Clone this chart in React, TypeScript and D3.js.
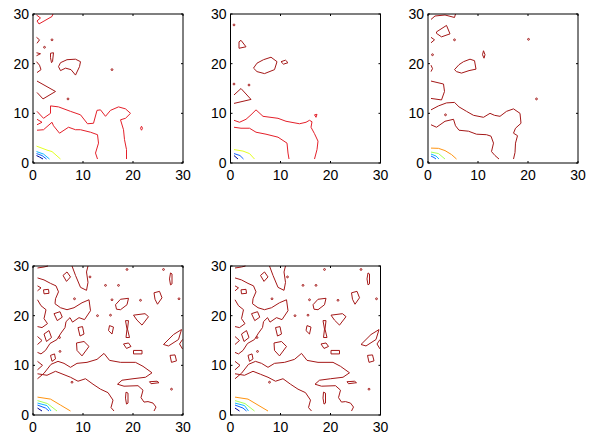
import React from 'react';
import * as d3 from 'd3';

type Pt = [number, number];
type Contour = { level: number; pts: Pt[]; closed?: boolean };
type Spot = [number, number, number]; // x, y, level

const tickValues = [0, 10, 20, 30];
const levelColors = ['#00008f', '#1060ff', '#10b8ff', '#a8ff58', '#e4ff20', '#ff9410', '#e4202a', '#a41818'];

// panel 1
const p1Contours: Contour[] = [
  { level: 0, pts: [[0.7, 1.5], [1.3, 1.2], [2.0, 0.8]] },
  { level: 1, pts: [[0.7, 1.9], [1.8, 1.5], [2.7, 0.8]] },
  { level: 2, pts: [[0.7, 2.3], [2.1, 1.8], [3.3, 0.8]] },
  { level: 4, pts: [[0.7, 3.4], [2.8, 2.6], [3.8, 2.3], [5.5, 0.8]] },
  { level: 6, pts: [[0.8, 6.6], [2.1, 6.7], [3.8, 8.2], [4.1, 7.5], [5.3, 6.0], [7.1, 7.2], [8.5, 6.7], [9.5, 6.7], [11.5, 6.2], [12.9, 5.7], [13.1, 4.0], [12.5, 2.0], [12.9, 0.8]] },
  { level: 6, pts: [[0.8, 10.4], [2.1, 9.0], [3.5, 10.0], [3.5, 11.5], [5.1, 11.3], [7.5, 10.4], [9.5, 9.7], [10.9, 7.9], [12.1, 8.0], [12.8, 10.6], [13.5, 10.7], [14.5, 9.4], [15.5, 10.6], [17.1, 11.3], [18.5, 10.9], [19.5, 10.0], [18.5, 9.0], [17.5, 8.7], [18.1, 6.7], [18.3, 4.7], [18.7, 2.7], [18.7, 0.8]] },
  { level: 6, pts: [[0.8, 8.8], [1.8, 8.2], [0.8, 7.7]] },
  { level: 6, pts: [[21.7, 7.4], [21.9, 7.0], [21.7, 6.6], [21.5, 7.0]], closed: true },
  { level: 6, pts: [[0.7, 29.8], [1.5, 29.2], [0.8, 28.6], [1.2, 28.0], [3.8, 29.5], [4.0, 30]] },
  { level: 7, pts: [[0.7, 25.3], [1.3, 24.8], [0.8, 24.1]] },
  { level: 7, pts: [[0.7, 22.2], [1.5, 22.0], [0.7, 21.6]] },
  { level: 7, pts: [[3.5, 22.1], [4.1, 22.2], [3.9, 20.4], [3.7, 20.2], [3.5, 21.2]], closed: true },
  { level: 7, pts: [[0.7, 20.4], [1.3, 19.7], [1.6, 18.8], [0.8, 18.2]] },
  { level: 7, pts: [[5.1, 19.4], [5.5, 20.2], [6.8, 20.8], [8.5, 20.9], [9.5, 20.4], [9.3, 19.4], [8.5, 17.7], [7.6, 18.8], [6.5, 19.1], [5.5, 18.6]], closed: true },
  { level: 7, pts: [[0.8, 16.5], [4.5, 14.4], [2.0, 12.9], [0.8, 14.2]] },
];
const p1Spots: Spot[] = [[3.8, 24.8, 7], [2.3, 23.3, 7], [15.8, 18.8, 7], [7.0, 12.9, 7]];

// panel 2
const p2Contours: Contour[] = [
  { level: 0, pts: [[0.7, 1.5], [1.5, 0.8]] },
  { level: 1, pts: [[0.7, 1.9], [1.9, 1.5], [2.6, 0.8]] },
  { level: 4, pts: [[0.7, 2.7], [2.5, 2.4], [3.8, 1.9], [4.8, 0.8]] },
  { level: 6, pts: [[0.7, 7.2], [2.1, 7.0], [3.8, 7.0], [5.1, 6.2], [7.1, 5.8], [9.5, 5.2], [11.3, 4.0], [11.5, 2.0], [11.7, 0.8]] },
  { level: 6, pts: [[0.7, 8.6], [1.8, 8.2], [3.1, 8.8], [4.1, 9.7], [5.1, 10.7], [6.5, 9.4], [9.5, 9.0], [11.1, 8.4], [13.8, 7.9], [15.1, 8.2], [15.8, 8.6], [16.3, 8.3], [16.1, 7.2], [16.8, 5.9], [17.5, 4.4], [17.3, 2.7], [16.8, 0.8]] },
  { level: 6, pts: [[16.8, 9.7], [17.3, 9.8], [17.1, 9.2]], closed: true },
  { level: 7, pts: [[0.7, 12.0], [4.1, 12.8], [2.1, 15.0], [0.7, 13.7]] },
  { level: 7, pts: [[1.7, 24.4], [2.1, 24.7], [3.1, 23.4], [1.7, 23.1]], closed: true },
  { level: 7, pts: [[4.6, 19.1], [5.3, 20.1], [6.6, 20.8], [8.1, 21.3], [9.3, 20.4], [8.8, 18.8], [6.8, 18.0], [5.3, 18.4]], closed: true },
  { level: 7, pts: [[10.1, 20.4], [11.0, 20.7], [11.5, 20.2], [10.6, 19.9]], closed: true },
];
const p2Spots: Spot[] = [[0.7, 15.9, 7], [3.7, 15.7, 7], [0.7, 27.8, 7]];

// panel 3
const p3Contours: Contour[] = [
  { level: 1, pts: [[0.6, 1.4], [1.2, 1.1], [1.6, 0.8]] },
  { level: 2, pts: [[0.6, 1.8], [1.6, 1.4], [2.2, 0.8]] },
  { level: 3, pts: [[0.6, 2.2], [2.1, 1.9], [3.4, 0.8]] },
  { level: 5, pts: [[0.6, 3.0], [2.1, 2.95], [3.4, 2.5], [4.7, 1.7], [5.7, 0.8]] },
  { level: 7, pts: [[0.6, 7.7], [1.7, 7.2], [3.4, 8.4], [5.1, 8.8], [5.5, 7.5], [6.2, 6.6], [8.1, 6.4], [9.7, 5.8], [11.7, 5.7], [12.6, 5.4], [13.1, 4.0], [12.7, 2.3], [13.4, 1.5], [14.2, 0.8]] },
  { level: 7, pts: [[0.6, 10.7], [2.1, 11.5], [3.7, 12.1], [5.3, 12.2], [6.2, 11.3], [7.7, 10.4], [9.1, 9.6], [11.1, 9.2], [12.4, 10.0], [13.3, 9.6], [14.4, 9.4], [15.7, 10.4], [17.1, 10.9], [18.4, 10.0], [18.6, 8.0], [17.5, 7.0], [17.1, 6.0], [17.9, 5.5], [17.5, 4.0], [17.4, 2.1], [17.1, 0.8]] },
  { level: 7, pts: [[0.6, 16.5], [3.1, 15.9], [3.3, 14.4], [2.7, 12.7], [0.6, 13.0]] },
  { level: 7, pts: [[0.6, 19.7], [0.9, 19.0], [0.6, 18.4]] },
  { level: 7, pts: [[5.3, 18.8], [6.2, 19.8], [7.1, 20.4], [8.4, 20.9], [9.3, 20.6], [9.6, 18.9], [8.2, 18.6], [6.7, 18.1], [5.7, 18.4]], closed: true },
  { level: 7, pts: [[11.1, 22.6], [11.4, 21.8], [11.2, 21.1], [10.9, 21.8]], closed: true },
  { level: 7, pts: [[1.7, 26.4], [3.7, 27.7], [4.4, 26.0], [2.7, 25.4], [1.7, 26.1]], closed: true },
  { level: 7, pts: [[0.6, 28.9], [1.4, 29.6], [3.4, 29.8], [5.3, 29.3], [5.5, 30]] },
  { level: 7, pts: [[0.6, 25.3], [1.3, 24.8], [0.6, 24.2]] },
];
const p3Spots: Spot[] = [[3.5, 9.7, 7], [21.7, 12.9, 7], [0.9, 21.8, 7], [5.3, 24.8, 7], [20.1, 24.9, 7]];

// panels 4 and 5 (same field)
const p4Contours: Contour[] = [
  { level: 0, pts: [[0.9, 1.4], [1.8, 0.8]] },
  { level: 1, pts: [[0.9, 2.0], [2.5, 1.4], [3.2, 0.8]] },
  { level: 2, pts: [[0.9, 2.4], [2.8, 1.9], [3.6, 0.8]] },
  { level: 3, pts: [[0.9, 2.9], [2.9, 2.3], [4.8, 0.8]] },
  { level: 5, pts: [[0.9, 3.6], [3.5, 3.2], [5.5, 2.0], [7.5, 0.8]] },
  // lower networks
  { level: 7, pts: [[0.9, 7.3], [2.2, 8.4], [3.6, 10.2], [5.0, 10.8], [6.2, 10.4], [7.5, 9.6], [8.8, 10.4], [10.8, 10.6], [12.8, 11.2], [14.2, 12.4], [15.3, 11.0], [17.5, 10.6], [20.5, 10.6], [22.0, 9.8], [23.8, 8.5], [22.5, 7.6], [20.0, 7.3], [17.8, 7.0], [16.9, 6.2], [18.2, 5.8], [21.0, 5.9], [22.0, 5.0], [21.6, 3.5], [22.2, 2.6], [23.0, 2.7], [24.0, 2.4], [24.6, 1.6], [24.2, 0.8]] },
  { level: 7, pts: [[0.9, 8.3], [2.8, 8.0], [4.5, 8.8], [6.0, 8.2], [7.5, 7.6], [9.0, 6.8], [10.5, 7.3], [12.0, 6.2], [13.5, 5.2], [15.0, 4.5], [16.0, 3.0], [15.6, 1.5], [16.2, 0.8]] },
  { level: 7, pts: [[0.9, 10.8], [1.9, 10.0], [0.9, 9.1]] },
  { level: 7, pts: [[18.6, 4.6], [19.0, 4.4], [19.0, 2.4], [18.7, 2.2], [18.5, 3.4]], closed: true },
  { level: 7, pts: [[23.3, 6.7], [24.8, 6.8], [25.2, 6.5], [23.6, 6.3]], closed: true },
  // upper-left networks
  { level: 7, pts: [[0.9, 29.6], [2.2, 29.8], [3.0, 30]] },
  { level: 7, pts: [[0.9, 27.6], [2.2, 27.2], [3.5, 26.5], [4.6, 26.0], [5.1, 24.8], [4.5, 23.4], [4.4, 22.4], [5.5, 21.6], [6.8, 21.2], [8.2, 21.6], [9.8, 22.6], [11.2, 23.2], [11.5, 21.0], [10.3, 19.2], [9.2, 19.6], [7.9, 18.7], [7.4, 19.6], [6.6, 18.8], [6.4, 17.6], [5.6, 16.5], [4.8, 15.2], [3.4, 14.4], [2.5, 13.0], [1.6, 12.3], [0.9, 12.6]] },
  { level: 7, pts: [[0.9, 23.2], [1.6, 22.0], [2.6, 21.2], [2.2, 19.4], [2.9, 18.4], [1.8, 17.6], [0.9, 17.8]] },
  { level: 7, pts: [[0.9, 26.0], [1.6, 25.6], [0.9, 25.0]] },
  { level: 7, pts: [[0.9, 15.8], [1.8, 15.0], [0.9, 14.2]] },
  { level: 7, pts: [[6.0, 28.1], [6.8, 28.8], [7.5, 27.8], [6.7, 26.9]], closed: true },
  { level: 7, pts: [[7.8, 30], [8.5, 28.1], [9.5, 25.7], [10.7, 25.1], [11.0, 26.7], [10.7, 28.8], [11.0, 30]] },
  // scattered islands
  { level: 7, pts: [[16.5, 22.2], [17.5, 23.3], [19.1, 23.5], [18.8, 22.2], [17.5, 21.2], [16.7, 21.3]], closed: true },
  { level: 7, pts: [[24.2, 24.6], [25.3, 24.9], [25.8, 23.6], [24.9, 22.3], [24.4, 23.3]], closed: true },
  { level: 7, pts: [[27.5, 28.6], [27.8, 28.4], [27.8, 26.4], [27.5, 26.2], [27.3, 27.4]], closed: true },
  { level: 7, pts: [[20.1, 20.1], [22.4, 20.4], [23.1, 19.8], [21.8, 18.1], [20.8, 19.1]], closed: true },
  { level: 7, pts: [[15.3, 18.0], [16.1, 17.7], [15.8, 16.3], [15.1, 17.0]], closed: true },
  { level: 7, pts: [[18.5, 19.0], [19.1, 19.0], [18.9, 17.3], [19.3, 15.6], [18.6, 15.6], [18.8, 17.3]], closed: true },
  { level: 7, pts: [[18.1, 14.3], [19.1, 14.5], [19.6, 13.8], [18.7, 13.4]], closed: true },
  { level: 7, pts: [[20.1, 13.0], [21.8, 13.0], [21.8, 12.3], [20.1, 12.3]], closed: true },
  { level: 7, pts: [[26.1, 14.2], [28.1, 16.2], [29.7, 17.2], [29.1, 15.2], [27.1, 13.9]], closed: true },
  { level: 7, pts: [[29.9, 15.2], [29.3, 14.3], [29.9, 13.3]] },
  { level: 7, pts: [[27.4, 12.0], [28.4, 12.1], [28.7, 10.9], [27.7, 10.6]], closed: true },
  { level: 7, pts: [[8.7, 14.5], [10.2, 14.8], [11.2, 13.8], [9.8, 11.9], [8.8, 13.0]], closed: true },
  { level: 7, pts: [[9.0, 17.6], [9.9, 17.8], [10.2, 16.3], [9.4, 15.9]], closed: true },
  { level: 7, pts: [[3.5, 12.0], [4.3, 12.3], [4.5, 11.3], [3.8, 10.8]], closed: true },
  { level: 7, pts: [[2.2, 16.3], [3.2, 17.0], [3.7, 15.6], [2.7, 14.8]], closed: true },
  { level: 7, pts: [[4.2, 20.4], [5.4, 20.8], [5.85, 19.7], [4.85, 19.0]], closed: true },
  { level: 7, pts: [[2.1, 25.2], [3.1, 25.3], [3.2, 24.5], [2.2, 24.4]], closed: true },
];
const p4Spots: Spot[] = [[11.4, 27.8, 7], [18.8, 29.3, 7], [26.1, 29.3, 7], [14.5, 26.1, 7], [17.1, 26.1, 7], [15.8, 23.2, 7], [21.5, 23.1, 7], [29.2, 23.4, 7], [5.4, 12.8, 7], [5.3, 15.6, 7], [12.9, 20.0, 7], [8.3, 23.4, 7], [15.5, 20.1, 7], [7.8, 6.6, 7], [27.7, 5.2, 7]];

const panels = [
  { x0: 33, y0: 14, contours: p1Contours, spots: p1Spots },
  { x0: 230.5, y0: 14, contours: p2Contours, spots: p2Spots },
  { x0: 428, y0: 14, contours: p3Contours, spots: p3Spots },
  { x0: 33, y0: 266, contours: p4Contours, spots: p4Spots },
  { x0: 230.5, y0: 266, contours: p4Contours, spots: p4Spots },
];

const W = 150;
const H = 149;

const Panel = ({ x0, y0, contours, spots }: any) => {
  const x = d3.scaleLinear().domain([0, 30]).range([0, W]);
  const y = d3.scaleLinear().domain([0, 30]).range([H, 0]);
  const color = d3.scaleOrdinal<number, string>().domain(d3.range(levelColors.length)).range(levelColors);
  const line = d3.line<Pt>().x(d => x(d[0])).y(d => y(d[1]));
  const tl = 2;
  return (
    <g transform={`translate(${x0},${y0})`}>
      <rect width={W} height={H} fill="#fff" />
      {contours.map((c: Contour, i: number) => (
        <path key={i} d={line(c.pts) + (c.closed ? 'Z' : '')} fill="none" stroke={color(c.level)} strokeWidth={1} strokeLinejoin="round" />
      ))}
      {spots.map((s: Spot, i: number) => (
        <circle key={'s' + i} cx={x(s[0])} cy={y(s[1])} r={0.9} fill="none" stroke={color(s[2])} strokeWidth={1} />
      ))}
      <rect width={W} height={H} fill="none" stroke="#000" strokeWidth={1} />
      {tickValues.map(t => (
        <g key={t}>
          <line x1={x(t)} x2={x(t)} y1={H} y2={H - tl} stroke="#000" />
          <line x1={x(t)} x2={x(t)} y1={0} y2={tl} stroke="#000" />
          <line x1={0} x2={tl} y1={y(t)} y2={y(t)} stroke="#000" />
          <line x1={W} x2={W - tl} y1={y(t)} y2={y(t)} stroke="#000" />
          <text x={x(t)} y={H + 16.5} textAnchor="middle" fontSize={14} fontFamily="Liberation Sans, Arial, sans-serif" fill="#000">{t}</text>
          <text x={-4} y={y(t)} dy="0.35em" textAnchor="end" fontSize={14} fontFamily="Liberation Sans, Arial, sans-serif" fill="#000">{t}</text>
        </g>
      ))}
    </g>
  );
};

export default function App() {
  return (
    <svg width={591} height={435} style={{ position: 'absolute', left: 0, top: 0, background: '#fff' }}>
      <rect width={591} height={435} fill="#fff" />
      {panels.map((p, i) => (
        <Panel key={i} {...p} />
      ))}
    </svg>
  );
}
